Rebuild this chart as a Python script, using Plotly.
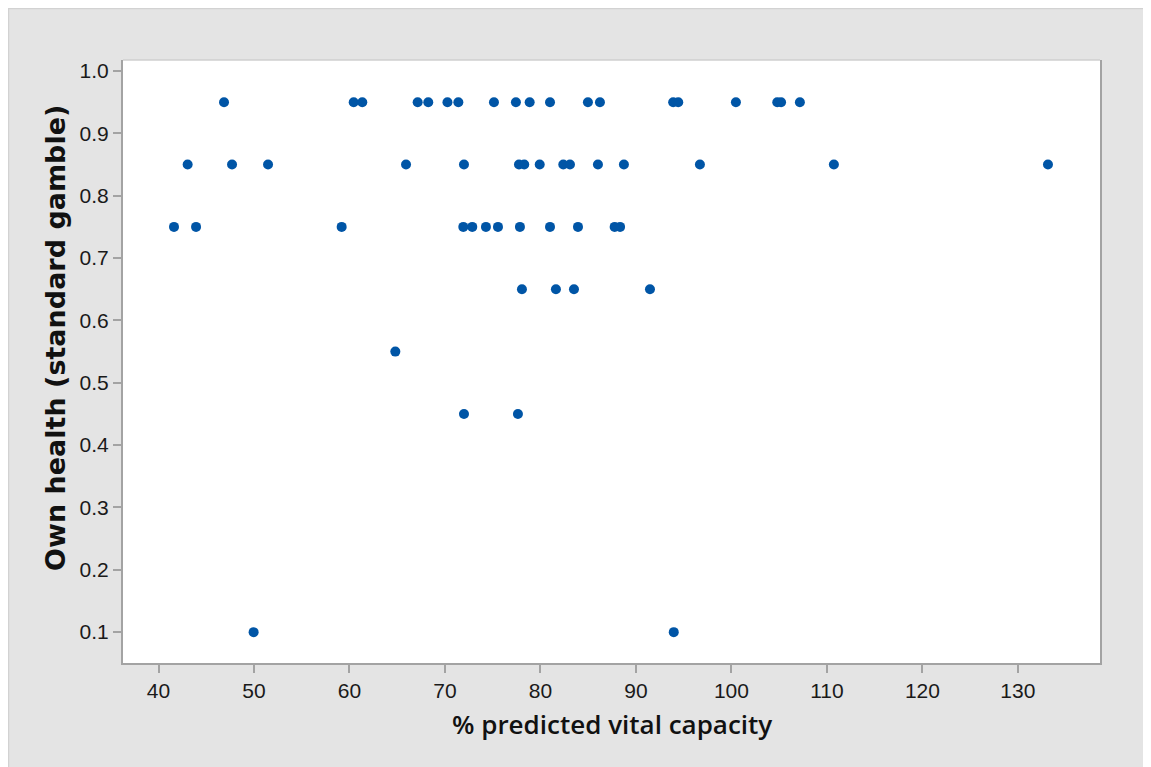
import plotly.graph_objects as go

# % predicted vital capacity and own health (standard gamble)
vital_capacity = [
    46.86, 60.44, 61.34, 67.14, 68.25, 70.26, 71.4, 75.13, 77.43, 78.87,
    81.0, 84.97, 86.23, 93.9, 94.43, 100.47, 104.8, 105.2, 107.17,
    43.05, 47.7, 51.47, 65.92, 71.99, 77.75, 78.3, 79.92, 82.39, 83.09,
    86.02, 88.74, 96.7, 110.73, 133.15,
    41.62, 43.93, 59.18, 71.92, 72.86, 74.29, 75.55, 77.85, 81.0, 83.93,
    87.77, 88.34,
    78.06, 81.62, 83.51, 91.47,
    64.8,
    71.99, 77.64,
    49.96, 93.96,
]
own_health = (
    [0.95] * 19
    + [0.85] * 15
    + [0.75] * 12
    + [0.65] * 4
    + [0.55] * 1
    + [0.45] * 2
    + [0.10] * 2
)

x_ticks = [40, 50, 60, 70, 80, 90, 100, 110, 120, 130]
y_ticks = [0.1, 0.2, 0.3, 0.4, 0.5, 0.6, 0.7, 0.8, 0.9, 1.0]
x_title = "% predicted vital capacity"
y_title = "Own health (standard gamble)"

# page has an 8px body margin, so the figure starts at screen (8, 8)
OFF = 8
W, H = 1151 - OFF, 767 - OFF
L, T = 123 - OFF, 60 - OFF
R = W - (1100 - OFF)
B = H - (663 - OFF)
pw, ph = W - L - R, H - T - B


def px_x(s):
    return (s - OFF - L) / pw


def px_y(s):
    return (H - B - (s - OFF)) / ph


fig = go.Figure()
fig.add_trace(go.Scatter(
    x=vital_capacity, y=own_health, mode="markers",
    marker=dict(size=10, color="#0055A6", line=dict(width=0)),
    showlegend=False,
))

axis_common = dict(
    showgrid=False, zeroline=False, showline=True, linecolor="#a3a3a3",
    linewidth=2, ticks="outside", ticklen=8, tickwidth=1.5, tickcolor="#a3a3a3",
    tickfont=dict(family="Liberation Sans, Arial, sans-serif", size=21, color="#1a1a1a"),
)

fig.update_layout(
    width=W, height=H,
    margin=dict(l=L, r=R, t=T, b=B, pad=0),
    paper_bgcolor="#e4e4e4", plot_bgcolor="white",
    xaxis=dict(range=[36.28, 138.6], tickvals=x_ticks, **axis_common),
    yaxis=dict(range=[0.0505, 1.0177], tickvals=y_ticks, tickformat=".1f",
               mirror=True, **axis_common),
    shapes=[
        dict(type="line", xref="paper", yref="paper", layer="below",
             x0=px_x(8), x1=px_x(1160), y0=px_y(8.5), y1=px_y(8.5),
             line=dict(color="#d2d2d2", width=1.5)),
        dict(type="line", xref="paper", yref="paper", layer="below",
             x0=px_x(8.5), x1=px_x(8.5), y0=px_y(8), y1=px_y(780),
             line=dict(color="#d2d2d2", width=1.5)),
        dict(type="line", xref="paper", yref="paper",
             x0=0, x1=1, y0=1, y1=1, line=dict(color="#cfcfcf", width=1.5)),
    ],
    annotations=[
        dict(text=x_title, xref="paper", yref="paper", x=0.5, y=px_y(724),
             xanchor="center", yanchor="middle", showarrow=False,
             font=dict(family="Open Sans, sans-serif", size=26, color="#111111", weight=600)),
        dict(text=y_title, xref="paper", yref="paper", x=px_x(55), y=px_y(338),
             xanchor="center", yanchor="middle", textangle=-90, showarrow=False,
             font=dict(family="DejaVu Sans, sans-serif", size=27, color="#111111", weight="bold")),
    ],
)

fig.write_html("out.html")
